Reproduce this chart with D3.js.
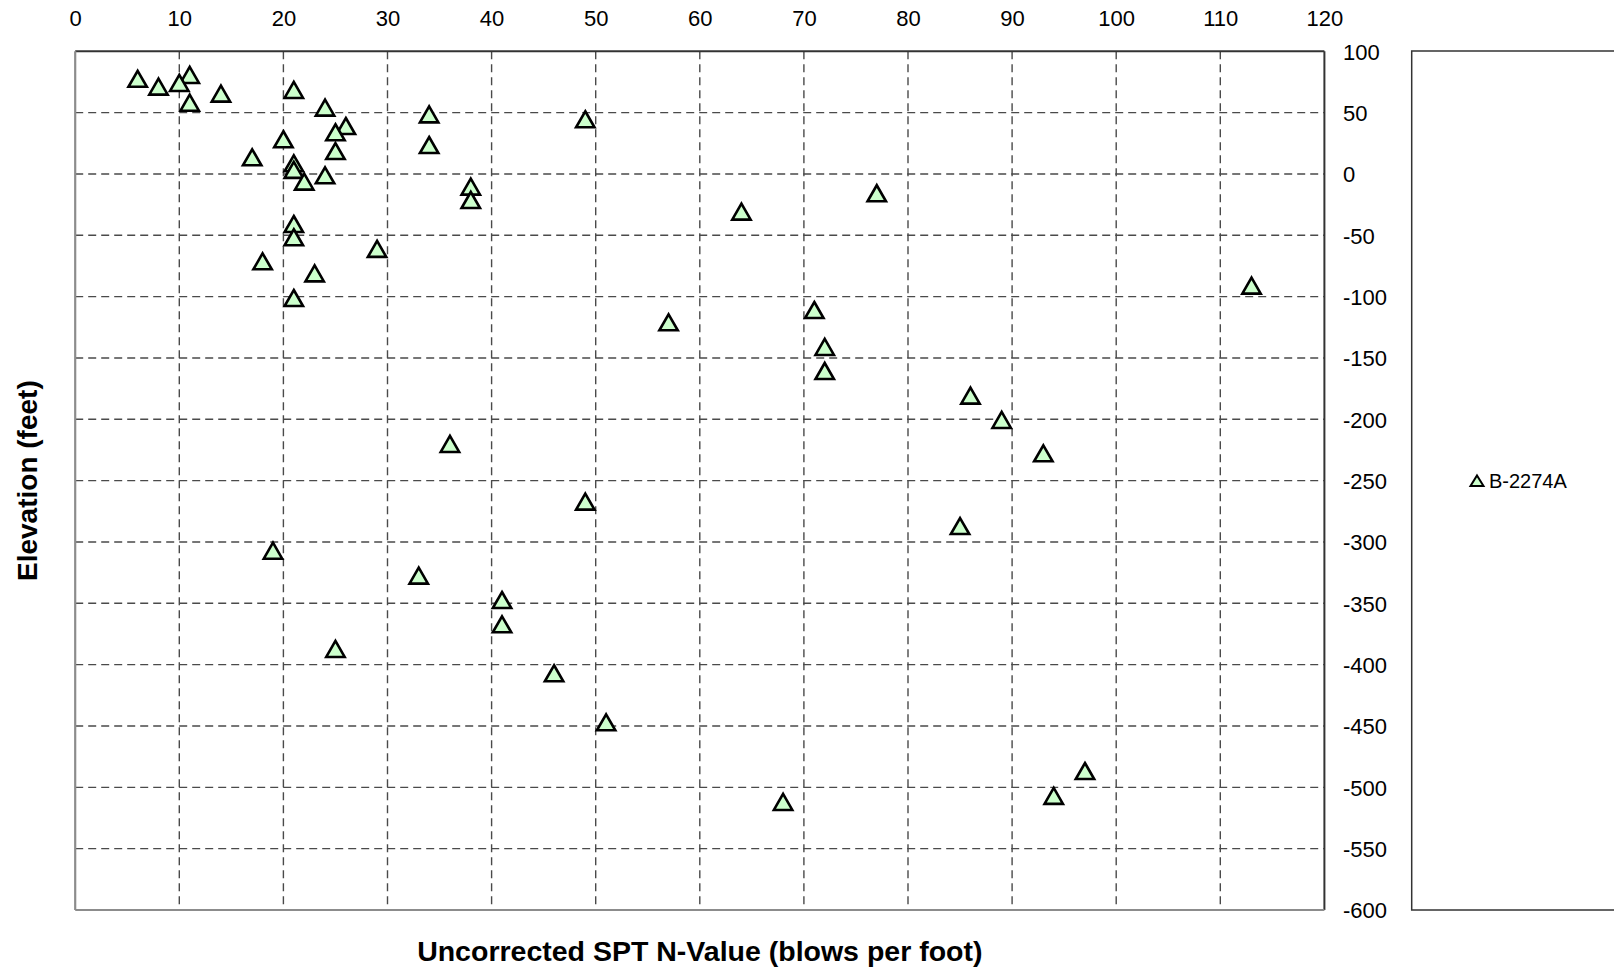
<!DOCTYPE html>
<html>
<head>
<meta charset="utf-8">
<script src="https://cdn.jsdelivr.net/npm/d3@7"></script>
<style>
  html, body { margin: 0; padding: 0; background: #ffffff; }
  svg { display: block; }
</style>
</head>
<body>
<svg id="chart" width="1614" height="971"></svg>
<script>
// ---- Data ----
const nValues = [11, 6, 10, 8, 21, 14, 11, 24, 34, 49, 26, 25, 20, 34, 25, 17, 21, 21, 24, 22,
                 38, 77, 38, 64, 21, 21, 29, 18, 23, 113, 21, 71, 57, 72, 72, 86, 89, 36, 93,
                 49, 85, 19, 33, 41, 41, 25, 46, 51, 97, 94, 68];
const elevations = [80.7, 77.6, 74.2, 71.2, 68.5, 65.5, 58.1, 54.1, 48.6, 44.6, 39.1, 34.0, 28.3, 23.6, 18.7, 13.6, 8.7, 3.3, -1.1, -6.2,
                    -10.3, -15.7, -21.2, -30.7, -40.8, -51.6, -61.1, -71.2, -81.0, -91.0, -101.1, -110.9, -120.9, -141.0, -160.6, -180.7, -200.5, -220.1, -227.7,
                    -267.1, -287.0, -307.1, -327.4, -347.3, -367.1, -387.2, -407.0, -447.0, -486.7, -507.0, -511.9];
const seriesName = "B-2274A";
const xTicks = [0, 10, 20, 30, 40, 50, 60, 70, 80, 90, 100, 110, 120];
const yTicks = [100, 50, 0, -50, -100, -150, -200, -250, -300, -350, -400, -450, -500, -550, -600];
const xTitle = "Uncorrected SPT N-Value (blows per foot)";
const yTitle = "Elevation (feet)";

// ---- Layout ----
const plot = { left: 75.2, right: 1324.4, top: 51.3, bottom: 910 };
const FONT = "'Liberation Sans', Arial, Helvetica, sans-serif";

const svg = d3.select("#chart");

const x = d3.scaleLinear().domain([0, 120]).range([plot.left, plot.right]);
const y = d3.scaleLinear().domain([-600, 100]).range([plot.bottom, plot.top]);
const fmt = d => String(d);

// Gridlines
const grid = svg.append("g").attr("class", "grid");
grid.selectAll("line.h")
  .data(yTicks.filter(v => v !== 100 && v !== -600))
  .join("line")
  .attr("x1", plot.left).attr("x2", plot.right)
  .attr("y1", d => y(d)).attr("y2", d => y(d))
  .attr("stroke", "#4a4a4a").attr("stroke-width", 1.4)
  .attr("stroke-dasharray", "8,5");
grid.selectAll("line.v")
  .data(xTicks.filter(v => v !== 0 && v !== 120))
  .join("line")
  .attr("y1", plot.top).attr("y2", plot.bottom)
  .attr("x1", d => x(d)).attr("x2", d => x(d))
  .attr("stroke", "#4a4a4a").attr("stroke-width", 1.4)
  .attr("stroke-dasharray", "8,5");

// Plot border
svg.append("line").attr("x1", plot.left).attr("x2", plot.right).attr("y1", plot.top).attr("y2", plot.top)
  .attr("stroke", "#333").attr("stroke-width", 2);
svg.append("line").attr("x1", plot.right).attr("x2", plot.right).attr("y1", plot.top).attr("y2", plot.bottom)
  .attr("stroke", "#333").attr("stroke-width", 2);
svg.append("line").attr("x1", plot.left).attr("x2", plot.left).attr("y1", plot.top).attr("y2", plot.bottom)
  .attr("stroke", "#8c8c8c").attr("stroke-width", 2.2);
svg.append("line").attr("x1", plot.left).attr("x2", plot.right).attr("y1", plot.bottom).attr("y2", plot.bottom)
  .attr("stroke", "#8c8c8c").attr("stroke-width", 2.2);

// X axis (top)
const xAxis = svg.append("g")
  .attr("transform", "translate(0,26)")
  .call(d3.axisTop(x).tickValues(xTicks).tickSize(0).tickPadding(0).tickFormat(fmt));
xAxis.select(".domain").remove();
xAxis.selectAll("text")
  .attr("font-family", FONT).attr("font-size", 22).attr("fill", "#000");

// Y axis (right, labels left-aligned)
const yAxis = svg.append("g")
  .attr("transform", "translate(1343,0)")
  .call(d3.axisRight(y).tickValues(yTicks).tickSize(0).tickPadding(0).tickFormat(fmt));
yAxis.select(".domain").remove();
yAxis.selectAll("text")
  .attr("font-family", FONT).attr("font-size", 22).attr("fill", "#000")
  .attr("text-anchor", "start").attr("dy", "0.36em");

// Axis titles
svg.append("text")
  .attr("x", (plot.left + plot.right) / 2).attr("y", 961)
  .attr("text-anchor", "middle")
  .attr("font-family", FONT).attr("font-weight", "bold").attr("font-size", 28.5)
  .text(xTitle);
svg.append("text")
  .attr("transform", `translate(37,${(plot.top + plot.bottom) / 2}) rotate(-90)`)
  .attr("text-anchor", "middle")
  .attr("font-family", FONT).attr("font-weight", "bold").attr("font-size", 28)
  .text(yTitle);

// Points
const tri = "M0,-8L9.2,8L-9.2,8Z";
const data = nValues.map((n, i) => ({ n, e: elevations[i] }));
svg.append("g").selectAll("path")
  .data(data)
  .join("path")
  .attr("d", tri)
  .attr("transform", d => `translate(${x(d.n)},${y(d.e)})`)
  .attr("fill", "#ccffcc")
  .attr("stroke", "#000")
  .attr("stroke-width", 2.6)
  .attr("stroke-linejoin", "miter");

// Legend
const legend = svg.append("g");
legend.append("rect")
  .attr("x", 1411.7).attr("y", 51).attr("width", 260).attr("height", 859)
  .attr("fill", "#fff").attr("stroke", "#333").attr("stroke-width", 1.5);
legend.append("path")
  .attr("d", "M0,-5.5L6.5,5L-6.5,5Z")
  .attr("transform", "translate(1477,481)")
  .attr("fill", "#ccffcc").attr("stroke", "#000").attr("stroke-width", 2);
legend.append("text")
  .attr("x", 1489).attr("y", 481).attr("dy", "0.36em")
  .attr("font-family", FONT).attr("font-size", 20).attr("fill", "#000")
  .text(seriesName);
</script>
</body>
</html>
